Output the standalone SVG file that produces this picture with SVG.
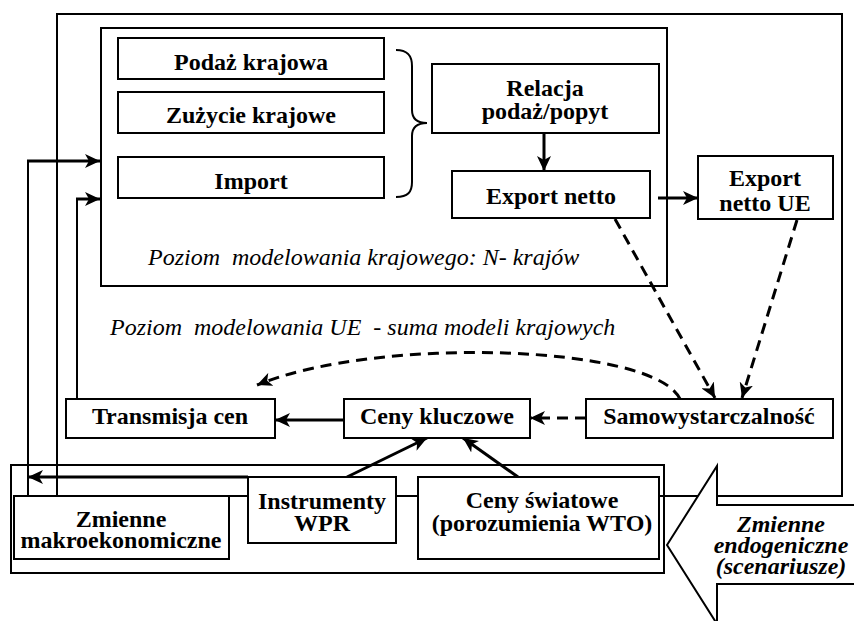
<svg xmlns="http://www.w3.org/2000/svg" width="854" height="621" viewBox="0 0 854 621">
<defs>
<style>
.frame{fill:none;stroke:#000;stroke-width:2}
.box{fill:#fff;stroke:#000;stroke-width:2}
.t{font-family:"Liberation Serif","Times New Roman",serif;font-size:24px;font-weight:bold;text-anchor:middle;fill:#000}
.it{font-family:"Liberation Serif","Times New Roman",serif;font-size:24px;font-style:italic;fill:#000;white-space:pre}
.bi{font-family:"Liberation Serif","Times New Roman",serif;font-size:24px;font-style:italic;font-weight:bold;text-anchor:middle;fill:#000}
.c{fill:none;stroke:#000;stroke-width:3}
.thin{fill:none;stroke:#000;stroke-width:2}
.d{fill:none;stroke:#000;stroke-width:3;stroke-dasharray:11 7}
</style>
<marker id="ah" markerUnits="userSpaceOnUse" markerWidth="16" markerHeight="14" refX="15" refY="7" orient="auto" viewBox="0 0 16 14">
<path d="M0,0 L15,7 L0,14 L4,7 z" fill="#000"/>
</marker>
</defs>
<rect width="854" height="621" fill="#fff"/>

<g id="frames">
<rect class="frame" x="57" y="14" width="785" height="482"/>
<rect class="frame" x="11" y="465" width="653" height="108"/>
<rect class="frame" x="101" y="28" width="566" height="258"/>
<text class="it" x="148" y="265">Poziom  modelowania krajowego: N- krajów</text>
<text class="it" x="110" y="335">Poziom  modelowania UE  - suma modeli krajowych</text>
<path class="thin" d="M396,50 C408,50 412,56 412,66 L412,110 C412,119 418,123 427,123 C418,123 412,127 412,136 L412,182 C412,192 408,197 396,197"/>
</g>

<g id="connectors">
<path class="c" d="M544,133 L544,171" marker-end="url(#ah)"/>
<path class="c" d="M658,198 L698,198" marker-end="url(#ah)"/>
<path class="d" d="M615,219 L715,398" marker-end="url(#ah)"/>
<path class="d" d="M797,220 L742,398" marker-end="url(#ah)"/>
<path class="d" d="M586,418 L530,418" marker-end="url(#ah)"/>
<path class="d" d="M680,399 C655,345 380,335 257,385" marker-end="url(#ah)"/>
<path class="c" d="M344,420 L275,420" marker-end="url(#ah)"/>
<path class="c" d="M347,477 L427,438" marker-end="url(#ah)"/>
<path class="c" d="M518,477 L463,438" marker-end="url(#ah)"/>
<path class="c" d="M248,477 L28,477" marker-end="url(#ah)"/>
<path class="thin" d="M28,496 L28,161"/>
<path class="c" d="M27,161 L100,161" marker-end="url(#ah)"/>
<path class="thin" d="M77,399 L77,199"/>
<path class="c" d="M76,199 L100,199" marker-end="url(#ah)"/>
</g>

<g id="podaz"><rect class="box" x="118" y="38" width="266" height="41"/><text class="t" x="251" y="70">Podaż krajowa</text></g>
<g id="zuzycie"><rect class="box" x="118" y="92" width="266" height="41"/><text class="t" x="251" y="123">Zużycie krajowe</text></g>
<g id="import"><rect class="box" x="118" y="157" width="266" height="41"/><text class="t" x="251" y="189">Import</text></g>
<g id="relacja"><rect class="box" x="432" y="64" width="227" height="69"/><text class="t" x="545" y="96">Relacja</text><text class="t" x="545" y="119">podaż/popyt</text></g>
<g id="export"><rect class="box" x="452" y="171" width="198" height="47"/><text class="t" x="551" y="204">Export netto</text></g>
<g id="exportue"><rect class="box" x="698" y="156" width="135" height="63"/><text class="t" x="765" y="186">Export</text><text class="t" x="765" y="211">netto UE</text></g>
<g id="samo"><rect class="box" x="586" y="399" width="247" height="39"/><text class="t" x="709" y="424">Samowystarczalność</text></g>
<g id="ceny"><rect class="box" x="344" y="399" width="186" height="39"/><text class="t" x="437" y="424">Ceny kluczowe</text></g>
<g id="transmisja"><rect class="box" x="66" y="399" width="209" height="39"/><text class="t" x="170" y="424">Transmisja cen</text></g>
<g id="zmienne"><rect class="box" x="14" y="496" width="215" height="63"/><text class="t" x="121" y="527">Zmienne</text><text class="t" x="121" y="548">makroekonomiczne</text></g>
<g id="instrumenty"><rect class="box" x="248" y="477" width="148" height="66"/><text class="t" x="322" y="509">Instrumenty</text><text class="t" x="322" y="531">WPR</text></g>
<g id="swiatowe"><rect class="box" x="418" y="477" width="241" height="82"/><text class="t" x="542" y="508">Ceny światowe</text><text class="t" x="542" y="531">(porozumienia WTO)</text></g>

<g id="endogeniczne">
<polygon points="667,545 717,466 717,505 870,505 870,584 717,584 717,624" fill="#fff" stroke="#000" stroke-width="2"/>
<text class="bi" x="781" y="532">Zmienne</text>
<text class="bi" x="781" y="553">endogeniczne</text>
<text class="bi" x="781" y="574">(scenariusze)</text>
</g>
</svg>
